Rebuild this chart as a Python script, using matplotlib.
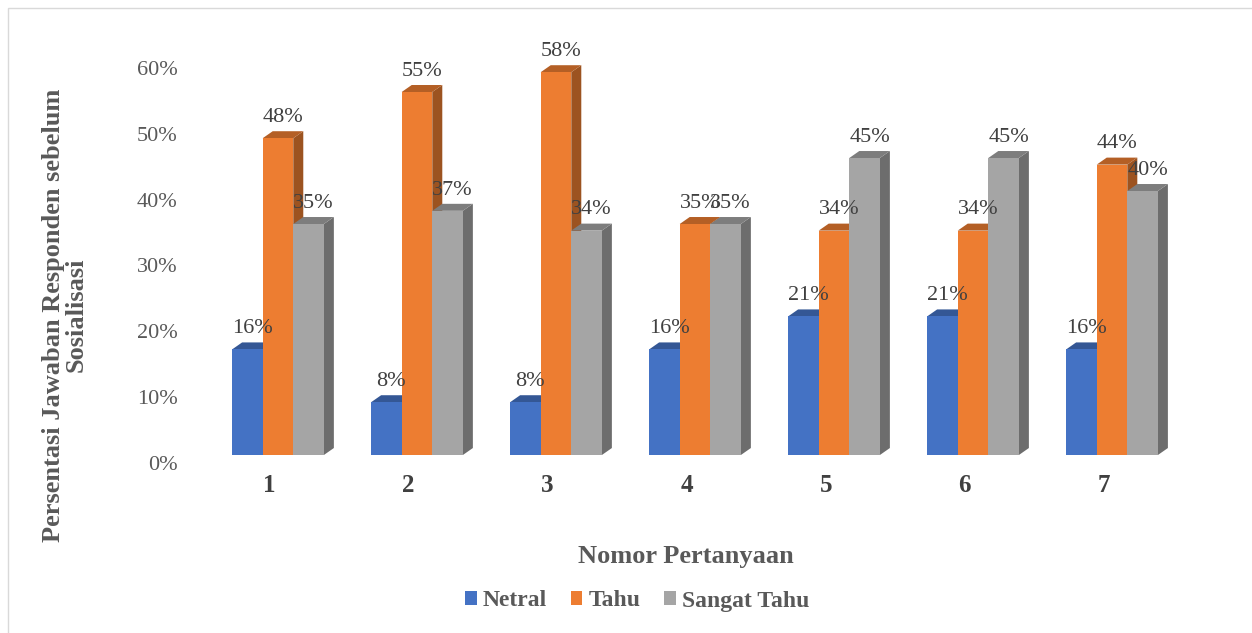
import matplotlib.pyplot as plt
import numpy as np
from matplotlib.patches import Polygon, Rectangle, Patch
from matplotlib.colors import to_rgb

# data
questions = ['1', '2', '3', '4', '5', '6', '7']
netral = [16, 8, 8, 16, 21, 21, 16]
tahu = [48, 55, 58, 35, 34, 34, 44]
sangat_tahu = [35, 37, 34, 35, 45, 45, 40]
series_names = ['Netral', 'Tahu', 'Sangat Tahu']
yticks = [0, 10, 20, 30, 40, 50, 60]

colors = ['#4472C4', '#ED7D31', '#A5A5A5']
plt.rcParams['font.family'] = ['Liberation Serif', 'DejaVu Serif']


def shade(c, f):
    return tuple(v * f for v in to_rgb(c))


def bar3d(ax, x, h, w, dx, dy, color, z):
    """Front face plus top and right side, Excel style pseudo 3D."""
    x0, x1 = x - w / 2, x + w / 2
    front = Polygon([(x0, 0), (x1, 0), (x1, h), (x0, h)], closed=True,
                    facecolor=color, edgecolor='none', zorder=z)
    top = Polygon([(x0, h), (x1, h), (x1 + dx, h + dy), (x0 + dx, h + dy)],
                  closed=True, facecolor=shade(color, 0.76), edgecolor='none', zorder=z)
    side = Polygon([(x1, 0), (x1 + dx, dy), (x1 + dx, h + dy), (x1, h)],
                   closed=True, facecolor=shade(color, 0.66), edgecolor='none', zorder=z)
    for p in (side, top, front):
        ax.add_patch(p)


fig = plt.figure(figsize=(12.52, 6.33), dpi=100)
ax = fig.add_axes([200 / 1252, 1 - 470 / 633, 1000 / 1252, 430 / 633])
ax.set_xlim(-0.561, 6.633)
ax.set_ylim(-2.27, 62.88)

width = 0.22
dx, dy = 0.072, 1.06
x = np.arange(len(questions))
data = [netral, tahu, sangat_tahu]

z = 2
for i in range(len(questions)):
    for k, vals in enumerate(data):
        xc = x[i] + (k - 1) * width
        bar3d(ax, xc, vals[i], width, dx, dy, colors[k], z)
        z += 1
for i in range(len(questions)):
    for k, vals in enumerate(data):
        xc = x[i] + (k - 1) * width
        ax.annotate(f'{vals[i]}%', (xc + dx / 2, vals[i] + dy),
                    xytext=(0, 3), textcoords='offset points',
                    ha='center', va='bottom', fontsize=16, color='#404040',
                    zorder=100)

# axis ticks (back wall slightly offset from front faces)
ax.set_yticks(np.array(yticks) * 0.9975 - 1.2)
ax.set_yticklabels([f'{t}%' for t in yticks], fontsize=16, color='#595959')
ax.set_xticks(x - 0.06)
ax.set_xticklabels(questions, fontsize=18, fontweight='bold', color='#404040')
ax.tick_params(axis='y', length=0, pad=16)
ax.tick_params(axis='x', length=0, pad=3)
for s in ax.spines.values():
    s.set_visible(False)

fig.text(686 / 1252, 1 - 556 / 633, 'Nomor Pertanyaan', ha='center', va='center',
         fontsize=19, fontweight='bold', color='#595959')
fig.text(65 / 1252, 1 - 315 / 633, 'Persentasi Jawaban Responden sebelum\nSosialisasi',
         ha='center', va='center', rotation=90, multialignment='center',
         fontsize=19, fontweight='bold', color='#595959', linespacing=1.0)

handles = [Patch(facecolor=c, edgecolor='none') for c in colors]
fig.legend(handles, series_names, loc='center', bbox_to_anchor=(637 / 1252, 1 - 601 / 633),
           ncol=3, frameon=False, handlelength=0.5, handleheight=0.5,
           handletextpad=0.25, columnspacing=1.0,
           prop={'size': 17, 'weight': 'bold'}, labelcolor='#595959')

# chart frame
fig.add_artist(Rectangle((8 / 1252, -0.1), 1.2, 1 - 8 / 633 + 0.1, transform=fig.transFigure,
                         fill=False, edgecolor='#D9D9D9', linewidth=1))

fig.savefig('out.png', dpi=100)
